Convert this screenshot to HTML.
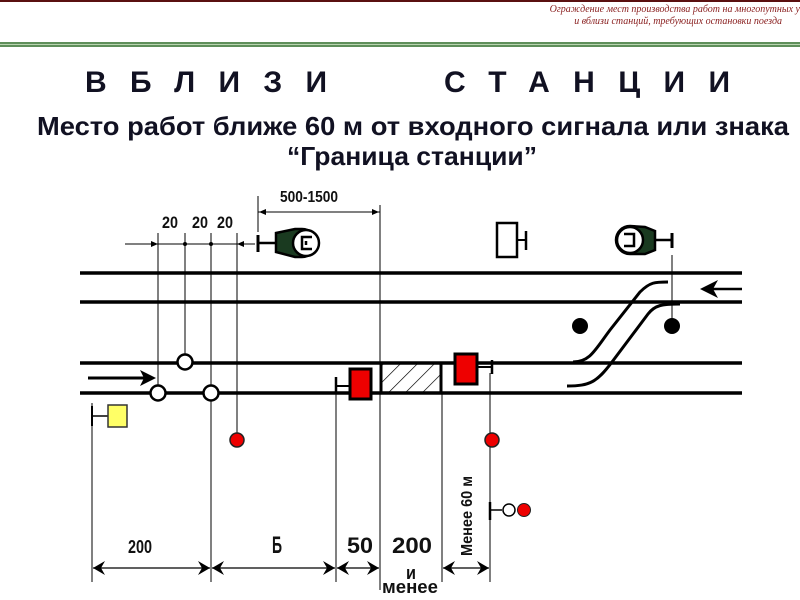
<!DOCTYPE html>
<html><head><meta charset="utf-8"><style>
html,body{margin:0;padding:0;background:#fff;width:800px;height:600px;overflow:hidden}
svg{display:block}
</style></head><body>
<svg width="800" height="600" viewBox="0 0 800 600" xmlns="http://www.w3.org/2000/svg">
<defs>
<pattern id="h" width="12" height="12" patternUnits="userSpaceOnUse" patternTransform="rotate(45)">
<line x1="0" y1="0" x2="0" y2="12" stroke="#000" stroke-width="1.3"/>
</pattern>
</defs>
<rect x="0" y="0" width="800" height="2" fill="#5a1010"/>
<g font-family="Liberation Serif, serif" font-style="italic" font-size="10" fill="#8a2020" text-anchor="end">
<text x="800" y="12">Ограждение мест производства работ на многопутных у</text>
<text x="782" y="24">и вблизи станций, требующих остановки поезда</text>
</g>
<rect x="0" y="42" width="800" height="5" fill="#5f8f5a"/>
<rect x="0" y="44" width="800" height="1" fill="#b9d4b0"/>
<g font-family="Liberation Sans, sans-serif" font-weight="bold" fill="#111122">
<text x="85" y="92" font-size="30" textLength="242" lengthAdjust="spacing">ВБЛИЗИ</text>
<text x="444" y="92" font-size="30" textLength="286" lengthAdjust="spacing">СТАНЦИИ</text>
<text x="37" y="135" font-size="26" textLength="752" lengthAdjust="spacingAndGlyphs">Место работ ближе 60 м  от входного сигнала или знака</text>
<text x="287" y="165" font-size="26" textLength="250" lengthAdjust="spacingAndGlyphs">“Граница станции”</text>
</g>
<g stroke="#000" stroke-width="3.5" fill="none">
<line x1="80" y1="273" x2="742" y2="273"/>
<line x1="80" y1="302" x2="742" y2="302"/>
<line x1="80" y1="363" x2="742" y2="363"/>
<line x1="80" y1="393" x2="742" y2="393"/>
<path d="M573,362 C590,362 595,350 610,330 L640,292 C650,282 655,282 668,282" stroke-width="3"/>
<path d="M567,386 C590,386 597,382 612,362 L648,314 C655,305 662,304 680,304" stroke-width="3"/>
</g>
<rect x="381" y="364" width="60" height="28" fill="url(#h)" stroke="none"/>
<line x1="381" y1="363" x2="381" y2="393" stroke="#000" stroke-width="3"/>
<line x1="441" y1="363" x2="441" y2="393" stroke="#000" stroke-width="3"/>
<g stroke="#000" stroke-width="1">
<line x1="158" y1="233" x2="158" y2="393"/>
<line x1="185" y1="233" x2="185" y2="355"/>
<line x1="211" y1="233" x2="211" y2="582"/>
<line x1="237" y1="233" x2="237" y2="435"/>
<line x1="380" y1="205" x2="380" y2="590"/>
<line x1="258" y1="196" x2="258" y2="232"/>
<line x1="442" y1="393" x2="442" y2="582"/>
<line x1="490" y1="373" x2="490" y2="582"/>
<line x1="336" y1="393" x2="336" y2="582"/>
<line x1="92" y1="403" x2="92" y2="582"/>
<line x1="672" y1="255" x2="672" y2="320"/>
<line x1="125" y1="244" x2="255" y2="244"/>
<line x1="258" y1="212" x2="380" y2="212"/>
</g>
<g fill="#000">
<path d="M158,244 L151,241 L151,247 Z"/>
<path d="M237,244 L244,241 L244,247 Z"/>
<path d="M259,212 L266,209 L266,215 Z"/>
<path d="M379,212 L372,209 L372,215 Z"/>
</g>
<circle cx="185" cy="244" r="2" fill="#000"/><circle cx="211" cy="244" r="2" fill="#000"/>
<g font-family="Liberation Sans, sans-serif" font-weight="bold" fill="#111">
<text x="162" y="228" font-size="17" textLength="16" lengthAdjust="spacingAndGlyphs">20</text>
<text x="192" y="228" font-size="17" textLength="16" lengthAdjust="spacingAndGlyphs">20</text>
<text x="217" y="228" font-size="17" textLength="16" lengthAdjust="spacingAndGlyphs">20</text>
<text x="280" y="202" font-size="16" textLength="58" lengthAdjust="spacingAndGlyphs">500-1500</text>
<text x="128" y="553" font-size="18" textLength="24" lengthAdjust="spacingAndGlyphs">200</text>
<text x="272" y="553" font-size="24" textLength="10" lengthAdjust="spacingAndGlyphs">Б</text>
<text x="347" y="553" font-size="22" textLength="26" lengthAdjust="spacingAndGlyphs">50</text>
<text x="392" y="553" font-size="22" textLength="40" lengthAdjust="spacingAndGlyphs">200</text>
<text x="406" y="579" font-size="18" textLength="10" lengthAdjust="spacingAndGlyphs">и</text>
<text x="382" y="593" font-size="18" textLength="56" lengthAdjust="spacingAndGlyphs">менее</text>
<text transform="translate(472,556) rotate(-90)" font-size="16" textLength="80" lengthAdjust="spacingAndGlyphs">Менее 60 м</text>
</g>
<g stroke="#000" stroke-width="1.3">
<line x1="93" y1="568" x2="210" y2="568"/>
<line x1="212" y1="568" x2="335" y2="568"/>
<line x1="337" y1="568" x2="379" y2="568"/>
<line x1="443" y1="568" x2="489" y2="568"/>
</g>
<g fill="#000">
<path d="M93,568 L105,561 L101,568 L105,575 Z"/>
<path d="M210,568 L198,561 L202,568 L198,575 Z"/>
<path d="M212,568 L224,561 L220,568 L224,575 Z"/>
<path d="M335,568 L323,561 L327,568 L323,575 Z"/>
<path d="M337,568 L349,561 L345,568 L349,575 Z"/>
<path d="M379,568 L367,561 L371,568 L367,575 Z"/>
<path d="M443,568 L455,561 L451,568 L455,575 Z"/>
<path d="M489,568 L477,561 L481,568 L477,575 Z"/>
</g>
<line x1="88" y1="378" x2="144" y2="378" stroke="#000" stroke-width="3"/>
<path d="M156,378 L140,370 L144,378 L140,386 Z" fill="#000"/>
<line x1="742" y1="289" x2="712" y2="289" stroke="#000" stroke-width="2.5"/>
<path d="M700,289 L718,280 L713,289 L718,298 Z" fill="#000"/>
<g stroke="#000" stroke-width="2.5" fill="#fff">
<circle cx="185" cy="362" r="7.5"/><circle cx="158" cy="393" r="7.5"/><circle cx="211" cy="393" r="7.5"/>
</g>
<circle cx="237" cy="440" r="7" fill="#e00" stroke="#222" stroke-width="1.5"/>
<circle cx="492" cy="440" r="7" fill="#e00" stroke="#222" stroke-width="1.5"/>
<circle cx="580" cy="326" r="8" fill="#000"/><circle cx="672" cy="326" r="8" fill="#000"/>
<line x1="92" y1="406" x2="92" y2="426" stroke="#000" stroke-width="2"/>
<line x1="92" y1="416" x2="108" y2="416" stroke="#000" stroke-width="1.5"/>
<rect x="108" y="405" width="19" height="22" fill="#ffff66" stroke="#333" stroke-width="1.5"/>
<line x1="336" y1="377" x2="336" y2="394" stroke="#000" stroke-width="2.5"/>
<line x1="336" y1="386" x2="349" y2="386" stroke="#000" stroke-width="2"/>
<rect x="350" y="369" width="21" height="30" fill="#e00" stroke="#000" stroke-width="3"/>
<rect x="455" y="354" width="22" height="30" fill="#e00" stroke="#000" stroke-width="3"/>
<line x1="478" y1="367" x2="492" y2="367" stroke="#000" stroke-width="2"/>
<line x1="492" y1="360" x2="492" y2="374" stroke="#000" stroke-width="2.5"/>
<line x1="490" y1="502" x2="490" y2="520" stroke="#000" stroke-width="2.5"/>
<line x1="490" y1="510" x2="502" y2="510" stroke="#000" stroke-width="1.5"/>
<circle cx="509" cy="510" r="6" fill="#fff" stroke="#000" stroke-width="1.5"/>
<circle cx="524" cy="510" r="6.5" fill="#e00" stroke="#222" stroke-width="1"/>
<rect x="497" y="223" width="20" height="34" fill="#fff" stroke="#000" stroke-width="2.5"/>
<line x1="517" y1="240" x2="526" y2="240" stroke="#000" stroke-width="2"/>
<line x1="526" y1="231" x2="526" y2="250" stroke="#000" stroke-width="2.5"/>
<line x1="258" y1="235" x2="258" y2="252" stroke="#000" stroke-width="3"/>
<line x1="258" y1="243" x2="276" y2="243" stroke="#000" stroke-width="2.5"/>
<path d="M276,233 L295,229 L302,229 A14,14 0 1 1 302,257 L295,257 L276,252 Z" fill="#1a3a20" stroke="#000" stroke-width="2.5"/>
<circle cx="306" cy="243" r="13" fill="#fff" stroke="#000" stroke-width="2.5"/>
<path d="M312,237 L302,237 L302,249 L312,249 M306,241 L306,245" fill="none" stroke="#000" stroke-width="2.5"/>
<line x1="672" y1="233" x2="672" y2="248" stroke="#000" stroke-width="3"/>
<line x1="655" y1="240" x2="672" y2="240" stroke="#000" stroke-width="2.5"/>
<path d="M655,231 L645,227 L630,226 A14,14 0 1 0 630,254 L645,254 L655,250 Z" fill="#1a3a20" stroke="#000" stroke-width="2.5"/>
<circle cx="630" cy="240" r="13" fill="#fff" stroke="#000" stroke-width="2.5"/>
<path d="M624,234 L634,234 L634,246 L624,246" fill="none" stroke="#000" stroke-width="2.5"/>
</svg>
</body></html>
